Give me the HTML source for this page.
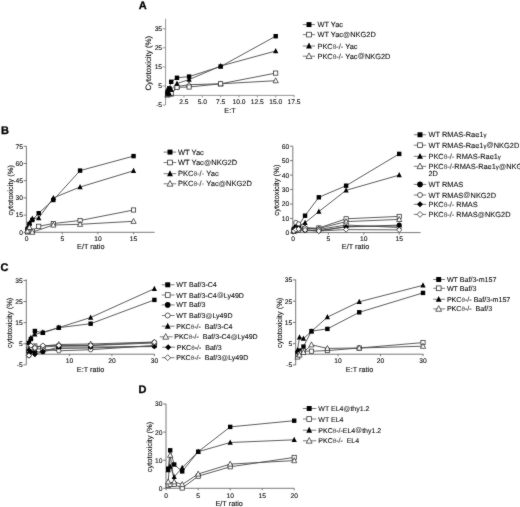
<!DOCTYPE html>
<html><head><meta charset="utf-8"><title>Figure</title>
<style>
html,body{margin:0;padding:0;background:#fff;}
body{width:520px;height:507px;overflow:hidden;}
svg{display:block;will-change:transform;font-family:"Liberation Sans",sans-serif;text-rendering:geometricPrecision;}
</style></head>
<body>
<svg width="520" height="507" viewBox="0 0 520 507">
<defs><filter id="bl" x="0" y="0" width="520" height="507" filterUnits="userSpaceOnUse" color-interpolation-filters="sRGB"><feConvolveMatrix order="3" kernelMatrix="1 2 1 2 28 2 1 2 1" divisor="40" edgeMode="duplicate" preserveAlpha="false"/></filter></defs>
<rect width="520" height="507" fill="#fff"/>
<g filter="url(#bl)">
<line x1="165.6" y1="18.8" x2="165.6" y2="105" stroke="#8a8a8a" stroke-width="0.9"/>
<line x1="165.6" y1="95.4" x2="294.3" y2="95.4" stroke="#8a8a8a" stroke-width="0.9"/>
<line x1="162.8" y1="28.74" x2="165.6" y2="28.74" stroke="#8a8a8a" stroke-width="0.9"/>
<text x="162.1" y="31.14" font-size="6.7" text-anchor="end" font-weight="normal" fill="#111" stroke="#111" stroke-width="0.12">35</text>
<line x1="162.8" y1="47.81" x2="165.6" y2="47.81" stroke="#8a8a8a" stroke-width="0.9"/>
<text x="162.1" y="50.21" font-size="6.7" text-anchor="end" font-weight="normal" fill="#111" stroke="#111" stroke-width="0.12">25</text>
<line x1="162.8" y1="66.89" x2="165.6" y2="66.89" stroke="#8a8a8a" stroke-width="0.9"/>
<text x="162.1" y="69.29" font-size="6.7" text-anchor="end" font-weight="normal" fill="#111" stroke="#111" stroke-width="0.12">15</text>
<line x1="162.8" y1="85.96" x2="165.6" y2="85.96" stroke="#8a8a8a" stroke-width="0.9"/>
<text x="162.1" y="88.36" font-size="6.7" text-anchor="end" font-weight="normal" fill="#111" stroke="#111" stroke-width="0.12">5</text>
<line x1="162.8" y1="105.04" x2="165.6" y2="105.04" stroke="#8a8a8a" stroke-width="0.9"/>
<text x="162.1" y="107.44" font-size="6.7" text-anchor="end" font-weight="normal" fill="#111" stroke="#111" stroke-width="0.12">-5</text>
<line x1="183.95" y1="95.4" x2="183.95" y2="97.4" stroke="#8a8a8a" stroke-width="0.9"/>
<text x="183.95" y="103.8" font-size="6.7" text-anchor="middle" font-weight="normal" fill="#111" stroke="#111" stroke-width="0.12">2.5</text>
<line x1="202.3" y1="95.4" x2="202.3" y2="97.4" stroke="#8a8a8a" stroke-width="0.9"/>
<text x="202.3" y="103.8" font-size="6.7" text-anchor="middle" font-weight="normal" fill="#111" stroke="#111" stroke-width="0.12">5.0</text>
<line x1="220.65" y1="95.4" x2="220.65" y2="97.4" stroke="#8a8a8a" stroke-width="0.9"/>
<text x="220.65" y="103.8" font-size="6.7" text-anchor="middle" font-weight="normal" fill="#111" stroke="#111" stroke-width="0.12">7.5</text>
<line x1="239" y1="95.4" x2="239" y2="97.4" stroke="#8a8a8a" stroke-width="0.9"/>
<text x="239" y="103.8" font-size="6.7" text-anchor="middle" font-weight="normal" fill="#111" stroke="#111" stroke-width="0.12">10.0</text>
<line x1="257.35" y1="95.4" x2="257.35" y2="97.4" stroke="#8a8a8a" stroke-width="0.9"/>
<text x="257.35" y="103.8" font-size="6.7" text-anchor="middle" font-weight="normal" fill="#111" stroke="#111" stroke-width="0.12">12.5</text>
<line x1="275.7" y1="95.4" x2="275.7" y2="97.4" stroke="#8a8a8a" stroke-width="0.9"/>
<text x="275.7" y="103.8" font-size="6.7" text-anchor="middle" font-weight="normal" fill="#111" stroke="#111" stroke-width="0.12">15.0</text>
<line x1="294.05" y1="95.4" x2="294.05" y2="97.4" stroke="#8a8a8a" stroke-width="0.9"/>
<text x="294.05" y="103.8" font-size="6.7" text-anchor="middle" font-weight="normal" fill="#111" stroke="#111" stroke-width="0.12">17.5</text>
<text x="230" y="112.8" font-size="7.3" text-anchor="middle" font-weight="normal" fill="#111" stroke="#111" stroke-width="0.12">E:T</text>
<text transform="translate(151,63.2) rotate(-90)" font-size="7.9" text-anchor="middle" fill="#111" stroke="#111" stroke-width="0.12">Cytotoxicity (%)</text>
<polyline points="167.44,95 169.27,94 171.18,94 176.98,86.5 189.09,84.7 220.65,83.8 275.7,80.7" fill="none" stroke="#4a4a4a" stroke-width="0.9"/>
<polyline points="167.44,94.5 169.27,93.5 171.18,93.5 176.98,87.3 189.09,87 220.65,83.8 275.7,73.1" fill="none" stroke="#4a4a4a" stroke-width="0.9"/>
<polyline points="167.44,89.5 169.27,93.2 171.18,89.5 176.98,83.5 189.09,79.6 220.65,66 275.7,51" fill="none" stroke="#4a4a4a" stroke-width="0.9"/>
<polyline points="167.44,93.6 169.27,88.3 171.18,81.8 176.98,77.8 189.09,76.6 220.65,66.5 275.7,36.2" fill="none" stroke="#4a4a4a" stroke-width="0.9"/>
<polygon points="167.44,92.1 170.03,97.1 164.84,97.1" fill="#fff" stroke="#2a2a2a" stroke-width="0.75" stroke-linejoin="miter"/>
<polygon points="169.27,91.1 171.87,96.1 166.67,96.1" fill="#fff" stroke="#2a2a2a" stroke-width="0.75" stroke-linejoin="miter"/>
<polygon points="171.18,91.1 173.78,96.1 168.58,96.1" fill="#fff" stroke="#2a2a2a" stroke-width="0.75" stroke-linejoin="miter"/>
<polygon points="176.98,83.6 179.58,88.6 174.38,88.6" fill="#fff" stroke="#2a2a2a" stroke-width="0.75" stroke-linejoin="miter"/>
<polygon points="189.09,81.8 191.69,86.8 186.49,86.8" fill="#fff" stroke="#2a2a2a" stroke-width="0.75" stroke-linejoin="miter"/>
<polygon points="220.65,80.9 223.25,85.9 218.05,85.9" fill="#fff" stroke="#2a2a2a" stroke-width="0.75" stroke-linejoin="miter"/>
<polygon points="275.7,77.8 278.3,82.8 273.1,82.8" fill="#fff" stroke="#2a2a2a" stroke-width="0.75" stroke-linejoin="miter"/>
<rect x="165.34" y="92.4" width="4.2" height="4.2" fill="#fff" stroke="#2a2a2a" stroke-width="0.75"/>
<rect x="167.17" y="91.4" width="4.2" height="4.2" fill="#fff" stroke="#2a2a2a" stroke-width="0.75"/>
<rect x="169.08" y="91.4" width="4.2" height="4.2" fill="#fff" stroke="#2a2a2a" stroke-width="0.75"/>
<rect x="174.88" y="85.2" width="4.2" height="4.2" fill="#fff" stroke="#2a2a2a" stroke-width="0.75"/>
<rect x="186.99" y="84.9" width="4.2" height="4.2" fill="#fff" stroke="#2a2a2a" stroke-width="0.75"/>
<rect x="218.55" y="81.7" width="4.2" height="4.2" fill="#fff" stroke="#2a2a2a" stroke-width="0.75"/>
<rect x="273.6" y="71" width="4.2" height="4.2" fill="#fff" stroke="#2a2a2a" stroke-width="0.75"/>
<polygon points="167.44,86.5 170.03,91.7 164.84,91.7" fill="#000"/>
<polygon points="169.27,90.2 171.87,95.4 166.67,95.4" fill="#000"/>
<polygon points="171.18,86.5 173.78,91.7 168.58,91.7" fill="#000"/>
<polygon points="176.98,80.5 179.58,85.7 174.38,85.7" fill="#000"/>
<polygon points="189.09,76.6 191.69,81.8 186.49,81.8" fill="#000"/>
<polygon points="220.65,63 223.25,68.2 218.05,68.2" fill="#000"/>
<polygon points="275.7,48 278.3,53.2 273.1,53.2" fill="#000"/>
<rect x="165.24" y="91.4" width="4.4" height="4.4" fill="#000"/>
<rect x="167.07" y="86.1" width="4.4" height="4.4" fill="#000"/>
<rect x="168.98" y="79.6" width="4.4" height="4.4" fill="#000"/>
<rect x="174.78" y="75.6" width="4.4" height="4.4" fill="#000"/>
<rect x="186.89" y="74.4" width="4.4" height="4.4" fill="#000"/>
<rect x="218.45" y="64.3" width="4.4" height="4.4" fill="#000"/>
<rect x="273.5" y="34" width="4.4" height="4.4" fill="#000"/>
<line x1="302.8" y1="24.6" x2="315" y2="24.6" stroke="#555" stroke-width="0.8"/>
<rect x="306.52" y="22.12" width="4.95" height="4.95" fill="#000"/>
<text x="317.5" y="27.25" font-size="7.4" text-anchor="start" font-weight="normal" fill="#111" stroke="#111" stroke-width="0.11">WT Yac</text>
<line x1="302.8" y1="34.6" x2="315" y2="34.6" stroke="#555" stroke-width="0.8"/>
<rect x="306.64" y="32.24" width="4.73" height="4.73" fill="#fff" stroke="#2a2a2a" stroke-width="0.75"/>
<text x="317.5" y="37.25" font-size="7.4" text-anchor="start" font-weight="normal" fill="#111" stroke="#111" stroke-width="0.11">WT Yac<tspan font-size="95%" dx="0.1" dy="-0.45" fill="#444" stroke="#444" stroke-width="0.1">@</tspan><tspan dx="0.1" dy="0.45">NKG2D</tspan></text>
<line x1="302.8" y1="46" x2="315" y2="46" stroke="#555" stroke-width="0.8"/>
<polygon points="309,42.62 311.93,48.48 306.07,48.48" fill="#000"/>
<text x="317.5" y="48.65" font-size="7.4" text-anchor="start" font-weight="normal" fill="#111" stroke="#111" stroke-width="0.11">PKC<tspan fill="#555" stroke="#555" stroke-width="0.12" font-size="88%">&#952;</tspan><tspan fill="#333" stroke="#333" stroke-width="0.12">-/-</tspan> Yac</text>
<line x1="302.8" y1="56.2" x2="315" y2="56.2" stroke="#555" stroke-width="0.8"/>
<polygon points="309,52.94 311.93,58.56 306.07,58.56" fill="#fff" stroke="#2a2a2a" stroke-width="0.75" stroke-linejoin="miter"/>
<text x="317.5" y="58.85" font-size="7.4" text-anchor="start" font-weight="normal" fill="#111" stroke="#111" stroke-width="0.11">PKC<tspan fill="#555" stroke="#555" stroke-width="0.12" font-size="88%">&#952;</tspan><tspan fill="#333" stroke="#333" stroke-width="0.12">-/-</tspan> Yac<tspan font-size="95%" dx="0.1" dy="-0.45" fill="#444" stroke="#444" stroke-width="0.1">@</tspan><tspan dx="0.1" dy="0.45">NKG2D</tspan></text>
<line x1="26.4" y1="146.2" x2="26.4" y2="232.3" stroke="#6a6a6a" stroke-width="0.9"/>
<line x1="26.4" y1="232.3" x2="154.6" y2="232.3" stroke="#6a6a6a" stroke-width="0.9"/>
<line x1="23.6" y1="146.28" x2="26.4" y2="146.28" stroke="#6a6a6a" stroke-width="0.9"/>
<text x="22.9" y="148.67" font-size="6.7" text-anchor="end" font-weight="normal" fill="#111" stroke="#111" stroke-width="0.12">75</text>
<line x1="23.6" y1="163.48" x2="26.4" y2="163.48" stroke="#6a6a6a" stroke-width="0.9"/>
<text x="22.9" y="165.88" font-size="6.7" text-anchor="end" font-weight="normal" fill="#111" stroke="#111" stroke-width="0.12">60</text>
<line x1="23.6" y1="180.69" x2="26.4" y2="180.69" stroke="#6a6a6a" stroke-width="0.9"/>
<text x="22.9" y="183.08" font-size="6.7" text-anchor="end" font-weight="normal" fill="#111" stroke="#111" stroke-width="0.12">45</text>
<line x1="23.6" y1="197.89" x2="26.4" y2="197.89" stroke="#6a6a6a" stroke-width="0.9"/>
<text x="22.9" y="200.29" font-size="6.7" text-anchor="end" font-weight="normal" fill="#111" stroke="#111" stroke-width="0.12">30</text>
<line x1="23.6" y1="215.09" x2="26.4" y2="215.09" stroke="#6a6a6a" stroke-width="0.9"/>
<text x="22.9" y="217.49" font-size="6.7" text-anchor="end" font-weight="normal" fill="#111" stroke="#111" stroke-width="0.12">15</text>
<line x1="23.6" y1="232.3" x2="26.4" y2="232.3" stroke="#6a6a6a" stroke-width="0.9"/>
<text x="22.9" y="234.7" font-size="6.7" text-anchor="end" font-weight="normal" fill="#111" stroke="#111" stroke-width="0.12">0</text>
<line x1="26.6" y1="232.3" x2="26.6" y2="234.3" stroke="#6a6a6a" stroke-width="0.9"/>
<text x="26.6" y="240.9" font-size="6.7" text-anchor="middle" font-weight="normal" fill="#111" stroke="#111" stroke-width="0.12">0</text>
<line x1="62.25" y1="232.3" x2="62.25" y2="234.3" stroke="#6a6a6a" stroke-width="0.9"/>
<text x="62.25" y="240.9" font-size="6.7" text-anchor="middle" font-weight="normal" fill="#111" stroke="#111" stroke-width="0.12">5</text>
<line x1="97.9" y1="232.3" x2="97.9" y2="234.3" stroke="#6a6a6a" stroke-width="0.9"/>
<text x="97.9" y="240.9" font-size="6.7" text-anchor="middle" font-weight="normal" fill="#111" stroke="#111" stroke-width="0.12">10</text>
<line x1="133.55" y1="232.3" x2="133.55" y2="234.3" stroke="#6a6a6a" stroke-width="0.9"/>
<text x="133.55" y="240.9" font-size="6.7" text-anchor="middle" font-weight="normal" fill="#111" stroke="#111" stroke-width="0.12">15</text>
<text x="90.8" y="249.4" font-size="7.3" text-anchor="middle" font-weight="normal" fill="#111" stroke="#111" stroke-width="0.12">E/T ratio</text>
<text transform="translate(12.6,190.2) rotate(-90)" font-size="7.5" text-anchor="middle" fill="#111" stroke="#111" stroke-width="0.12">cytotoxicity (%)</text>
<polyline points="27.46,229 29.45,224 32.3,220 38.72,213.2 53.34,200 80.08,170.6 133.55,156.1" fill="none" stroke="#4a4a4a" stroke-width="0.9"/>
<polyline points="27.46,232 29.45,231 32.3,231 38.72,226.3 53.34,223.5 80.08,220.5 133.55,210" fill="none" stroke="#4a4a4a" stroke-width="0.9"/>
<polyline points="27.46,228 29.45,223 32.3,218.5 38.72,218 53.34,197.9 80.08,187 133.55,170.8" fill="none" stroke="#4a4a4a" stroke-width="0.9"/>
<polyline points="27.46,231 29.45,227.4 32.3,232.2 53.34,225 80.08,224.3 133.55,221.3" fill="none" stroke="#4a4a4a" stroke-width="0.9"/>
<rect x="25.26" y="226.8" width="4.4" height="4.4" fill="#000"/>
<rect x="27.25" y="221.8" width="4.4" height="4.4" fill="#000"/>
<rect x="30.1" y="217.8" width="4.4" height="4.4" fill="#000"/>
<rect x="36.52" y="211" width="4.4" height="4.4" fill="#000"/>
<rect x="51.14" y="197.8" width="4.4" height="4.4" fill="#000"/>
<rect x="77.88" y="168.4" width="4.4" height="4.4" fill="#000"/>
<rect x="131.35" y="153.9" width="4.4" height="4.4" fill="#000"/>
<rect x="25.36" y="229.9" width="4.2" height="4.2" fill="#fff" stroke="#2a2a2a" stroke-width="0.75"/>
<rect x="27.35" y="228.9" width="4.2" height="4.2" fill="#fff" stroke="#2a2a2a" stroke-width="0.75"/>
<rect x="30.2" y="228.9" width="4.2" height="4.2" fill="#fff" stroke="#2a2a2a" stroke-width="0.75"/>
<rect x="36.62" y="224.2" width="4.2" height="4.2" fill="#fff" stroke="#2a2a2a" stroke-width="0.75"/>
<rect x="51.24" y="221.4" width="4.2" height="4.2" fill="#fff" stroke="#2a2a2a" stroke-width="0.75"/>
<rect x="77.98" y="218.4" width="4.2" height="4.2" fill="#fff" stroke="#2a2a2a" stroke-width="0.75"/>
<rect x="131.45" y="207.9" width="4.2" height="4.2" fill="#fff" stroke="#2a2a2a" stroke-width="0.75"/>
<polygon points="27.46,225 30.06,230.2 24.86,230.2" fill="#000"/>
<polygon points="29.45,220 32.05,225.2 26.85,225.2" fill="#000"/>
<polygon points="32.3,215.5 34.9,220.7 29.7,220.7" fill="#000"/>
<polygon points="38.72,215 41.32,220.2 36.12,220.2" fill="#000"/>
<polygon points="53.34,194.9 55.94,200.1 50.74,200.1" fill="#000"/>
<polygon points="80.08,184 82.67,189.2 77.48,189.2" fill="#000"/>
<polygon points="133.55,167.8 136.15,173 130.95,173" fill="#000"/>
<polygon points="27.46,228.1 30.06,233.1 24.86,233.1" fill="#fff" stroke="#2a2a2a" stroke-width="0.75" stroke-linejoin="miter"/>
<polygon points="29.45,224.5 32.05,229.5 26.85,229.5" fill="#fff" stroke="#2a2a2a" stroke-width="0.75" stroke-linejoin="miter"/>
<polygon points="32.3,229.3 34.9,234.3 29.7,234.3" fill="#fff" stroke="#2a2a2a" stroke-width="0.75" stroke-linejoin="miter"/>
<polygon points="53.34,222.1 55.94,227.1 50.74,227.1" fill="#fff" stroke="#2a2a2a" stroke-width="0.75" stroke-linejoin="miter"/>
<polygon points="80.08,221.4 82.67,226.4 77.48,226.4" fill="#fff" stroke="#2a2a2a" stroke-width="0.75" stroke-linejoin="miter"/>
<polygon points="133.55,218.4 136.15,223.4 130.95,223.4" fill="#fff" stroke="#2a2a2a" stroke-width="0.75" stroke-linejoin="miter"/>
<line x1="163.6" y1="152.1" x2="176.2" y2="152.1" stroke="#555" stroke-width="0.8"/>
<rect x="167.53" y="149.62" width="4.95" height="4.95" fill="#000"/>
<text x="178" y="154.78" font-size="7.5" text-anchor="start" font-weight="normal" fill="#111" stroke="#111" stroke-width="0.11">WT Yac</text>
<line x1="163.6" y1="162.5" x2="176.2" y2="162.5" stroke="#555" stroke-width="0.8"/>
<rect x="167.64" y="160.14" width="4.73" height="4.73" fill="#fff" stroke="#2a2a2a" stroke-width="0.75"/>
<text x="178" y="165.19" font-size="7.5" text-anchor="start" font-weight="normal" fill="#111" stroke="#111" stroke-width="0.11">WT Yac<tspan font-size="95%" dx="0.1" dy="-0.45" fill="#444" stroke="#444" stroke-width="0.1">@</tspan><tspan dx="0.1" dy="0.45">NKG2D</tspan></text>
<line x1="163.6" y1="173.7" x2="176.2" y2="173.7" stroke="#555" stroke-width="0.8"/>
<polygon points="170,170.32 172.93,176.17 167.07,176.17" fill="#000"/>
<text x="178" y="176.38" font-size="7.5" text-anchor="start" font-weight="normal" fill="#111" stroke="#111" stroke-width="0.11">PKC<tspan fill="#555" stroke="#555" stroke-width="0.12" font-size="88%">&#952;</tspan><tspan fill="#333" stroke="#333" stroke-width="0.12">-/-</tspan> Yac</text>
<line x1="163.6" y1="183.8" x2="176.2" y2="183.8" stroke="#555" stroke-width="0.8"/>
<polygon points="170,180.54 172.93,186.16 167.07,186.16" fill="#fff" stroke="#2a2a2a" stroke-width="0.75" stroke-linejoin="miter"/>
<text x="178" y="186.49" font-size="7.5" text-anchor="start" font-weight="normal" fill="#111" stroke="#111" stroke-width="0.11">PKC<tspan fill="#555" stroke="#555" stroke-width="0.12" font-size="88%">&#952;</tspan><tspan fill="#333" stroke="#333" stroke-width="0.12">-/-</tspan> Yac<tspan font-size="95%" dx="0.1" dy="-0.45" fill="#444" stroke="#444" stroke-width="0.1">@</tspan><tspan dx="0.1" dy="0.45">NKG2D</tspan></text>
<line x1="292.8" y1="146.2" x2="292.8" y2="232.6" stroke="#6a6a6a" stroke-width="0.9"/>
<line x1="292.8" y1="232.6" x2="420.6" y2="232.6" stroke="#6a6a6a" stroke-width="0.9"/>
<line x1="290" y1="146.2" x2="292.8" y2="146.2" stroke="#6a6a6a" stroke-width="0.9"/>
<text x="289.3" y="148.6" font-size="6.7" text-anchor="end" font-weight="normal" fill="#111" stroke="#111" stroke-width="0.12">60</text>
<line x1="290" y1="160.65" x2="292.8" y2="160.65" stroke="#6a6a6a" stroke-width="0.9"/>
<text x="289.3" y="163.05" font-size="6.7" text-anchor="end" font-weight="normal" fill="#111" stroke="#111" stroke-width="0.12">50</text>
<line x1="290" y1="175.1" x2="292.8" y2="175.1" stroke="#6a6a6a" stroke-width="0.9"/>
<text x="289.3" y="177.5" font-size="6.7" text-anchor="end" font-weight="normal" fill="#111" stroke="#111" stroke-width="0.12">40</text>
<line x1="290" y1="189.55" x2="292.8" y2="189.55" stroke="#6a6a6a" stroke-width="0.9"/>
<text x="289.3" y="191.95" font-size="6.7" text-anchor="end" font-weight="normal" fill="#111" stroke="#111" stroke-width="0.12">30</text>
<line x1="290" y1="204" x2="292.8" y2="204" stroke="#6a6a6a" stroke-width="0.9"/>
<text x="289.3" y="206.4" font-size="6.7" text-anchor="end" font-weight="normal" fill="#111" stroke="#111" stroke-width="0.12">20</text>
<line x1="290" y1="218.45" x2="292.8" y2="218.45" stroke="#6a6a6a" stroke-width="0.9"/>
<text x="289.3" y="220.85" font-size="6.7" text-anchor="end" font-weight="normal" fill="#111" stroke="#111" stroke-width="0.12">10</text>
<line x1="290" y1="232.9" x2="292.8" y2="232.9" stroke="#6a6a6a" stroke-width="0.9"/>
<text x="289.3" y="235.3" font-size="6.7" text-anchor="end" font-weight="normal" fill="#111" stroke="#111" stroke-width="0.12">0</text>
<line x1="293" y1="232.6" x2="293" y2="234.6" stroke="#6a6a6a" stroke-width="0.9"/>
<text x="293" y="240.7" font-size="6.7" text-anchor="middle" font-weight="normal" fill="#111" stroke="#111" stroke-width="0.12">0</text>
<line x1="328.4" y1="232.6" x2="328.4" y2="234.6" stroke="#6a6a6a" stroke-width="0.9"/>
<text x="328.4" y="240.7" font-size="6.7" text-anchor="middle" font-weight="normal" fill="#111" stroke="#111" stroke-width="0.12">5</text>
<line x1="363.8" y1="232.6" x2="363.8" y2="234.6" stroke="#6a6a6a" stroke-width="0.9"/>
<text x="363.8" y="240.7" font-size="6.7" text-anchor="middle" font-weight="normal" fill="#111" stroke="#111" stroke-width="0.12">10</text>
<line x1="399.2" y1="232.6" x2="399.2" y2="234.6" stroke="#6a6a6a" stroke-width="0.9"/>
<text x="399.2" y="240.7" font-size="6.7" text-anchor="middle" font-weight="normal" fill="#111" stroke="#111" stroke-width="0.12">15</text>
<text x="355.5" y="249.4" font-size="7.3" text-anchor="middle" font-weight="normal" fill="#111" stroke="#111" stroke-width="0.12">E/T ratio</text>
<text transform="translate(279.3,190.1) rotate(-90)" font-size="7.6" text-anchor="middle" fill="#111" stroke="#111" stroke-width="0.12">cytotoxicity (%)</text>
<polyline points="293.85,229 295.83,227 298.66,225 305.04,215.7 318.84,197.3 346.1,185.7 399.2,153.9" fill="none" stroke="#4a4a4a" stroke-width="0.9"/>
<polyline points="293.85,231.5 295.83,230.5 298.66,230 305.04,229 318.84,228 346.1,218.8 399.2,216.4" fill="none" stroke="#4a4a4a" stroke-width="0.9"/>
<polyline points="293.85,230 295.83,228 298.66,226 305.04,222.8 318.84,211.6 346.1,190.3 399.2,175.1" fill="none" stroke="#4a4a4a" stroke-width="0.9"/>
<polyline points="293.85,231 295.83,230 298.66,228.5 305.04,227.5 318.84,228.5 346.1,221.6 399.2,219.4" fill="none" stroke="#4a4a4a" stroke-width="0.9"/>
<polyline points="293.85,230.5 295.83,228 298.66,227.5 305.04,230 318.84,230.5 346.1,226.8 399.2,225.1" fill="none" stroke="#4a4a4a" stroke-width="0.9"/>
<polyline points="293.85,230 295.83,222.5 298.66,224 305.04,228 318.84,229.5 346.1,225 399.2,227.5" fill="none" stroke="#4a4a4a" stroke-width="0.9"/>
<polyline points="293.85,229 295.83,228.5 298.66,228 305.04,230.5 318.84,231 346.1,226.8 399.2,226" fill="none" stroke="#4a4a4a" stroke-width="0.9"/>
<polyline points="293.85,231 295.83,229.5 298.66,229 305.04,230 318.84,231 346.1,229.6 399.2,229.9" fill="none" stroke="#4a4a4a" stroke-width="0.9"/>
<rect x="291.65" y="226.8" width="4.4" height="4.4" fill="#000"/>
<rect x="293.63" y="224.8" width="4.4" height="4.4" fill="#000"/>
<rect x="296.46" y="222.8" width="4.4" height="4.4" fill="#000"/>
<rect x="302.84" y="213.5" width="4.4" height="4.4" fill="#000"/>
<rect x="316.64" y="195.1" width="4.4" height="4.4" fill="#000"/>
<rect x="343.9" y="183.5" width="4.4" height="4.4" fill="#000"/>
<rect x="397" y="151.7" width="4.4" height="4.4" fill="#000"/>
<rect x="291.75" y="229.4" width="4.2" height="4.2" fill="#fff" stroke="#2a2a2a" stroke-width="0.75"/>
<rect x="293.73" y="228.4" width="4.2" height="4.2" fill="#fff" stroke="#2a2a2a" stroke-width="0.75"/>
<rect x="296.56" y="227.9" width="4.2" height="4.2" fill="#fff" stroke="#2a2a2a" stroke-width="0.75"/>
<rect x="302.94" y="226.9" width="4.2" height="4.2" fill="#fff" stroke="#2a2a2a" stroke-width="0.75"/>
<rect x="316.74" y="225.9" width="4.2" height="4.2" fill="#fff" stroke="#2a2a2a" stroke-width="0.75"/>
<rect x="344" y="216.7" width="4.2" height="4.2" fill="#fff" stroke="#2a2a2a" stroke-width="0.75"/>
<rect x="397.1" y="214.3" width="4.2" height="4.2" fill="#fff" stroke="#2a2a2a" stroke-width="0.75"/>
<polygon points="293.85,227 296.45,232.2 291.25,232.2" fill="#000"/>
<polygon points="295.83,225 298.43,230.2 293.23,230.2" fill="#000"/>
<polygon points="298.66,223 301.26,228.2 296.06,228.2" fill="#000"/>
<polygon points="305.04,219.8 307.64,225 302.44,225" fill="#000"/>
<polygon points="318.84,208.6 321.44,213.8 316.24,213.8" fill="#000"/>
<polygon points="346.1,187.3 348.7,192.5 343.5,192.5" fill="#000"/>
<polygon points="399.2,172.1 401.8,177.3 396.6,177.3" fill="#000"/>
<polygon points="293.85,228.1 296.45,233.1 291.25,233.1" fill="#fff" stroke="#2a2a2a" stroke-width="0.75" stroke-linejoin="miter"/>
<polygon points="295.83,227.1 298.43,232.1 293.23,232.1" fill="#fff" stroke="#2a2a2a" stroke-width="0.75" stroke-linejoin="miter"/>
<polygon points="298.66,225.6 301.26,230.6 296.06,230.6" fill="#fff" stroke="#2a2a2a" stroke-width="0.75" stroke-linejoin="miter"/>
<polygon points="305.04,224.6 307.64,229.6 302.44,229.6" fill="#fff" stroke="#2a2a2a" stroke-width="0.75" stroke-linejoin="miter"/>
<polygon points="318.84,225.6 321.44,230.6 316.24,230.6" fill="#fff" stroke="#2a2a2a" stroke-width="0.75" stroke-linejoin="miter"/>
<polygon points="346.1,218.7 348.7,223.7 343.5,223.7" fill="#fff" stroke="#2a2a2a" stroke-width="0.75" stroke-linejoin="miter"/>
<polygon points="399.2,216.5 401.8,221.5 396.6,221.5" fill="#fff" stroke="#2a2a2a" stroke-width="0.75" stroke-linejoin="miter"/>
<circle cx="293.85" cy="230.5" r="2.5" fill="#000"/>
<circle cx="295.83" cy="228" r="2.5" fill="#000"/>
<circle cx="298.66" cy="227.5" r="2.5" fill="#000"/>
<circle cx="305.04" cy="230" r="2.5" fill="#000"/>
<circle cx="318.84" cy="230.5" r="2.5" fill="#000"/>
<circle cx="346.1" cy="226.8" r="2.5" fill="#000"/>
<circle cx="399.2" cy="225.1" r="2.5" fill="#000"/>
<circle cx="293.85" cy="230" r="2.2" fill="#fff" stroke="#2a2a2a" stroke-width="0.75"/>
<circle cx="295.83" cy="222.5" r="2.2" fill="#fff" stroke="#2a2a2a" stroke-width="0.75"/>
<circle cx="298.66" cy="224" r="2.2" fill="#fff" stroke="#2a2a2a" stroke-width="0.75"/>
<circle cx="305.04" cy="228" r="2.2" fill="#fff" stroke="#2a2a2a" stroke-width="0.75"/>
<circle cx="318.84" cy="229.5" r="2.2" fill="#fff" stroke="#2a2a2a" stroke-width="0.75"/>
<circle cx="346.1" cy="225" r="2.2" fill="#fff" stroke="#2a2a2a" stroke-width="0.75"/>
<circle cx="399.2" cy="227.5" r="2.2" fill="#fff" stroke="#2a2a2a" stroke-width="0.75"/>
<polygon points="293.85,226.3 296.55,229 293.85,231.7 291.15,229" fill="#000"/>
<polygon points="295.83,225.8 298.53,228.5 295.83,231.2 293.13,228.5" fill="#000"/>
<polygon points="298.66,225.3 301.36,228 298.66,230.7 295.96,228" fill="#000"/>
<polygon points="305.04,227.8 307.74,230.5 305.04,233.2 302.34,230.5" fill="#000"/>
<polygon points="318.84,228.3 321.54,231 318.84,233.7 316.14,231" fill="#000"/>
<polygon points="346.1,224.1 348.8,226.8 346.1,229.5 343.4,226.8" fill="#000"/>
<polygon points="399.2,223.3 401.9,226 399.2,228.7 396.5,226" fill="#000"/>
<polygon points="293.85,228.4 296.45,231 293.85,233.6 291.25,231" fill="#fff" stroke="#2a2a2a" stroke-width="0.75"/>
<polygon points="295.83,226.9 298.43,229.5 295.83,232.1 293.23,229.5" fill="#fff" stroke="#2a2a2a" stroke-width="0.75"/>
<polygon points="298.66,226.4 301.26,229 298.66,231.6 296.06,229" fill="#fff" stroke="#2a2a2a" stroke-width="0.75"/>
<polygon points="305.04,227.4 307.64,230 305.04,232.6 302.44,230" fill="#fff" stroke="#2a2a2a" stroke-width="0.75"/>
<polygon points="318.84,228.4 321.44,231 318.84,233.6 316.24,231" fill="#fff" stroke="#2a2a2a" stroke-width="0.75"/>
<polygon points="346.1,227 348.7,229.6 346.1,232.2 343.5,229.6" fill="#fff" stroke="#2a2a2a" stroke-width="0.75"/>
<polygon points="399.2,227.3 401.8,229.9 399.2,232.5 396.6,229.9" fill="#fff" stroke="#2a2a2a" stroke-width="0.75"/>
<line x1="413.8" y1="134.75" x2="426.2" y2="134.75" stroke="#555" stroke-width="0.8"/>
<rect x="417.52" y="132.28" width="4.95" height="4.95" fill="#000"/>
<text x="428.5" y="137.4" font-size="7.4" text-anchor="start" font-weight="normal" fill="#111" stroke="#111" stroke-width="0.11">WT RMAS-Rae1<tspan font-size="82%">&#947;</tspan></text>
<line x1="413.8" y1="145.2" x2="426.2" y2="145.2" stroke="#555" stroke-width="0.8"/>
<rect x="417.64" y="142.84" width="4.73" height="4.73" fill="#fff" stroke="#2a2a2a" stroke-width="0.75"/>
<text x="428.5" y="147.85" font-size="7.4" text-anchor="start" font-weight="normal" fill="#111" stroke="#111" stroke-width="0.11">WT RMAS-Rae1<tspan font-size="82%">&#947;</tspan><tspan font-size="95%" dx="0.1" dy="-0.45" fill="#444" stroke="#444" stroke-width="0.1">@</tspan><tspan dx="0.1" dy="0.45">NKG2D</tspan></text>
<line x1="413.8" y1="156.3" x2="426.2" y2="156.3" stroke="#555" stroke-width="0.8"/>
<polygon points="420,152.93 422.93,158.78 417.07,158.78" fill="#000"/>
<text x="428.5" y="158.95" font-size="7.4" text-anchor="start" font-weight="normal" fill="#111" stroke="#111" stroke-width="0.11">PKC<tspan fill="#555" stroke="#555" stroke-width="0.12" font-size="88%">&#952;</tspan><tspan fill="#333" stroke="#333" stroke-width="0.12">-/-</tspan> RMAS-Rae1<tspan font-size="82%">&#947;</tspan></text>
<line x1="413.8" y1="166.3" x2="426.2" y2="166.3" stroke="#555" stroke-width="0.8"/>
<polygon points="420,163.04 422.93,168.66 417.07,168.66" fill="#fff" stroke="#2a2a2a" stroke-width="0.75" stroke-linejoin="miter"/>
<text x="428.5" y="168.95" font-size="7.4" text-anchor="start" font-weight="normal" fill="#111" stroke="#111" stroke-width="0.11">PKC<tspan fill="#555" stroke="#555" stroke-width="0.12" font-size="88%">&#952;</tspan><tspan fill="#333" stroke="#333" stroke-width="0.12">-/-</tspan>RMAS-Rae1<tspan font-size="82%">&#947;</tspan><tspan font-size="95%" dx="0.1" dy="-0.45" fill="#444" stroke="#444" stroke-width="0.1">@</tspan><tspan dx="0.1" dy="0.45">NKG</tspan></text>
<line x1="413.8" y1="184.4" x2="426.2" y2="184.4" stroke="#555" stroke-width="0.8"/>
<circle cx="420" cy="184.4" r="2.81" fill="#000"/>
<text x="428.5" y="187.05" font-size="7.4" text-anchor="start" font-weight="normal" fill="#111" stroke="#111" stroke-width="0.11">WT RMAS</text>
<line x1="413.8" y1="195" x2="426.2" y2="195" stroke="#555" stroke-width="0.8"/>
<circle cx="420" cy="195" r="2.48" fill="#fff" stroke="#2a2a2a" stroke-width="0.75"/>
<text x="428.5" y="197.65" font-size="7.4" text-anchor="start" font-weight="normal" fill="#111" stroke="#111" stroke-width="0.11">WT RMAS<tspan font-size="95%" dx="0.1" dy="-0.45" fill="#444" stroke="#444" stroke-width="0.1">@</tspan><tspan dx="0.1" dy="0.45">NKG2D</tspan></text>
<line x1="413.8" y1="204.3" x2="426.2" y2="204.3" stroke="#555" stroke-width="0.8"/>
<polygon points="420,201.26 423.04,204.3 420,207.34 416.96,204.3" fill="#000"/>
<text x="428.5" y="206.95" font-size="7.4" text-anchor="start" font-weight="normal" fill="#111" stroke="#111" stroke-width="0.11">PKC<tspan fill="#555" stroke="#555" stroke-width="0.12" font-size="88%">&#952;</tspan><tspan fill="#333" stroke="#333" stroke-width="0.12">-/-</tspan> RMAS</text>
<line x1="413.8" y1="214.4" x2="426.2" y2="214.4" stroke="#555" stroke-width="0.8"/>
<polygon points="420,211.47 422.93,214.4 420,217.33 417.07,214.4" fill="#fff" stroke="#2a2a2a" stroke-width="0.75"/>
<text x="428.5" y="217.05" font-size="7.4" text-anchor="start" font-weight="normal" fill="#111" stroke="#111" stroke-width="0.11">PKC<tspan fill="#555" stroke="#555" stroke-width="0.12" font-size="88%">&#952;</tspan><tspan fill="#333" stroke="#333" stroke-width="0.12">-/-</tspan> RMAS<tspan font-size="95%" dx="0.1" dy="-0.45" fill="#444" stroke="#444" stroke-width="0.1">@</tspan><tspan dx="0.1" dy="0.45">NKG2D</tspan></text>
<text x="428.5" y="176.4" font-size="7.4" text-anchor="start" font-weight="normal" fill="#111" stroke="#111" stroke-width="0.11">2D</text>
<line x1="26.3" y1="279.4" x2="26.3" y2="364.8" stroke="#6a6a6a" stroke-width="0.9"/>
<line x1="26.3" y1="354.2" x2="154.7" y2="354.2" stroke="#6a6a6a" stroke-width="0.9"/>
<line x1="23.5" y1="280.45" x2="26.3" y2="280.45" stroke="#6a6a6a" stroke-width="0.9"/>
<text x="22.8" y="282.85" font-size="6.7" text-anchor="end" font-weight="normal" fill="#111" stroke="#111" stroke-width="0.12">35</text>
<line x1="23.5" y1="301.55" x2="26.3" y2="301.55" stroke="#6a6a6a" stroke-width="0.9"/>
<text x="22.8" y="303.95" font-size="6.7" text-anchor="end" font-weight="normal" fill="#111" stroke="#111" stroke-width="0.12">25</text>
<line x1="23.5" y1="322.65" x2="26.3" y2="322.65" stroke="#6a6a6a" stroke-width="0.9"/>
<text x="22.8" y="325.05" font-size="6.7" text-anchor="end" font-weight="normal" fill="#111" stroke="#111" stroke-width="0.12">15</text>
<line x1="23.5" y1="343.75" x2="26.3" y2="343.75" stroke="#6a6a6a" stroke-width="0.9"/>
<text x="22.8" y="346.15" font-size="6.7" text-anchor="end" font-weight="normal" fill="#111" stroke="#111" stroke-width="0.12">5</text>
<line x1="23.5" y1="364.85" x2="26.3" y2="364.85" stroke="#6a6a6a" stroke-width="0.9"/>
<text x="22.8" y="367.25" font-size="6.7" text-anchor="end" font-weight="normal" fill="#111" stroke="#111" stroke-width="0.12">-5</text>
<line x1="69.4" y1="354.2" x2="69.4" y2="356.2" stroke="#6a6a6a" stroke-width="0.9"/>
<text x="69.4" y="362.8" font-size="6.7" text-anchor="middle" font-weight="normal" fill="#111" stroke="#111" stroke-width="0.12">10</text>
<line x1="111.9" y1="354.2" x2="111.9" y2="356.2" stroke="#6a6a6a" stroke-width="0.9"/>
<text x="111.9" y="362.8" font-size="6.7" text-anchor="middle" font-weight="normal" fill="#111" stroke="#111" stroke-width="0.12">20</text>
<line x1="154.4" y1="354.2" x2="154.4" y2="356.2" stroke="#6a6a6a" stroke-width="0.9"/>
<text x="154.4" y="362.8" font-size="6.7" text-anchor="middle" font-weight="normal" fill="#111" stroke="#111" stroke-width="0.12">30</text>
<text x="90.5" y="371.9" font-size="7.3" text-anchor="middle" font-weight="normal" fill="#111" stroke="#111" stroke-width="0.12">E:T ratio</text>
<text transform="translate(12.4,322.9) rotate(-90)" font-size="7.5" text-anchor="middle" fill="#111" stroke="#111" stroke-width="0.12">cytotoxicity (%)</text>
<polyline points="28.9,343 30.89,339 34.87,331 42.84,332.8 58.77,327.7 90.65,323.7 154.4,299.9" fill="none" stroke="#4a4a4a" stroke-width="0.9"/>
<polyline points="28.9,349 30.89,347 34.87,346 42.84,347 58.77,346 90.65,345.5 154.4,343" fill="none" stroke="#4a4a4a" stroke-width="0.9"/>
<polyline points="28.9,352 30.89,350.8 34.87,352 42.84,351.7 58.77,348.5 90.65,348 154.4,346" fill="none" stroke="#4a4a4a" stroke-width="0.9"/>
<polyline points="28.9,355.6 30.89,350 34.87,348.5 42.84,349.3 58.77,350.8 90.65,349.7 154.4,345.5" fill="none" stroke="#4a4a4a" stroke-width="0.9"/>
<polyline points="28.9,342 30.89,337.8 34.87,334.4 42.84,332.3 58.77,327.6 90.65,317.5 154.4,288.7" fill="none" stroke="#4a4a4a" stroke-width="0.9"/>
<polyline points="28.9,350 30.89,348 34.87,347 42.84,346 58.77,344.5 90.65,344 154.4,342" fill="none" stroke="#4a4a4a" stroke-width="0.9"/>
<polyline points="28.9,350 30.89,352 34.87,354.6 42.84,351.3 58.77,347 90.65,347 154.4,346.6" fill="none" stroke="#4a4a4a" stroke-width="0.9"/>
<polyline points="28.9,355.5 30.89,345.5 34.87,347.9 42.84,345.5 58.77,345.5 90.65,345.3 154.4,342.2" fill="none" stroke="#4a4a4a" stroke-width="0.9"/>
<rect x="26.7" y="340.8" width="4.4" height="4.4" fill="#000"/>
<rect x="28.7" y="336.8" width="4.4" height="4.4" fill="#000"/>
<rect x="32.67" y="328.8" width="4.4" height="4.4" fill="#000"/>
<rect x="40.64" y="330.6" width="4.4" height="4.4" fill="#000"/>
<rect x="56.57" y="325.5" width="4.4" height="4.4" fill="#000"/>
<rect x="88.45" y="321.5" width="4.4" height="4.4" fill="#000"/>
<rect x="152.2" y="297.7" width="4.4" height="4.4" fill="#000"/>
<rect x="26.8" y="346.9" width="4.2" height="4.2" fill="#fff" stroke="#2a2a2a" stroke-width="0.75"/>
<rect x="28.79" y="344.9" width="4.2" height="4.2" fill="#fff" stroke="#2a2a2a" stroke-width="0.75"/>
<rect x="32.77" y="343.9" width="4.2" height="4.2" fill="#fff" stroke="#2a2a2a" stroke-width="0.75"/>
<rect x="40.74" y="344.9" width="4.2" height="4.2" fill="#fff" stroke="#2a2a2a" stroke-width="0.75"/>
<rect x="56.67" y="343.9" width="4.2" height="4.2" fill="#fff" stroke="#2a2a2a" stroke-width="0.75"/>
<rect x="88.55" y="343.4" width="4.2" height="4.2" fill="#fff" stroke="#2a2a2a" stroke-width="0.75"/>
<rect x="152.3" y="340.9" width="4.2" height="4.2" fill="#fff" stroke="#2a2a2a" stroke-width="0.75"/>
<circle cx="28.9" cy="352" r="2.5" fill="#000"/>
<circle cx="30.89" cy="350.8" r="2.5" fill="#000"/>
<circle cx="34.87" cy="352" r="2.5" fill="#000"/>
<circle cx="42.84" cy="351.7" r="2.5" fill="#000"/>
<circle cx="58.77" cy="348.5" r="2.5" fill="#000"/>
<circle cx="90.65" cy="348" r="2.5" fill="#000"/>
<circle cx="154.4" cy="346" r="2.5" fill="#000"/>
<circle cx="28.9" cy="355.6" r="2.2" fill="#fff" stroke="#2a2a2a" stroke-width="0.75"/>
<circle cx="30.89" cy="350" r="2.2" fill="#fff" stroke="#2a2a2a" stroke-width="0.75"/>
<circle cx="34.87" cy="348.5" r="2.2" fill="#fff" stroke="#2a2a2a" stroke-width="0.75"/>
<circle cx="42.84" cy="349.3" r="2.2" fill="#fff" stroke="#2a2a2a" stroke-width="0.75"/>
<circle cx="58.77" cy="350.8" r="2.2" fill="#fff" stroke="#2a2a2a" stroke-width="0.75"/>
<circle cx="90.65" cy="349.7" r="2.2" fill="#fff" stroke="#2a2a2a" stroke-width="0.75"/>
<circle cx="154.4" cy="345.5" r="2.2" fill="#fff" stroke="#2a2a2a" stroke-width="0.75"/>
<polygon points="28.9,339 31.5,344.2 26.3,344.2" fill="#000"/>
<polygon points="30.89,334.8 33.49,340 28.29,340" fill="#000"/>
<polygon points="34.87,331.4 37.47,336.6 32.27,336.6" fill="#000"/>
<polygon points="42.84,329.3 45.44,334.5 40.24,334.5" fill="#000"/>
<polygon points="58.77,324.6 61.38,329.8 56.17,329.8" fill="#000"/>
<polygon points="90.65,314.5 93.25,319.7 88.05,319.7" fill="#000"/>
<polygon points="154.4,285.7 157,290.9 151.8,290.9" fill="#000"/>
<polygon points="28.9,347.1 31.5,352.1 26.3,352.1" fill="#fff" stroke="#2a2a2a" stroke-width="0.75" stroke-linejoin="miter"/>
<polygon points="30.89,345.1 33.49,350.1 28.29,350.1" fill="#fff" stroke="#2a2a2a" stroke-width="0.75" stroke-linejoin="miter"/>
<polygon points="34.87,344.1 37.47,349.1 32.27,349.1" fill="#fff" stroke="#2a2a2a" stroke-width="0.75" stroke-linejoin="miter"/>
<polygon points="42.84,343.1 45.44,348.1 40.24,348.1" fill="#fff" stroke="#2a2a2a" stroke-width="0.75" stroke-linejoin="miter"/>
<polygon points="58.77,341.6 61.38,346.6 56.17,346.6" fill="#fff" stroke="#2a2a2a" stroke-width="0.75" stroke-linejoin="miter"/>
<polygon points="90.65,341.1 93.25,346.1 88.05,346.1" fill="#fff" stroke="#2a2a2a" stroke-width="0.75" stroke-linejoin="miter"/>
<polygon points="154.4,339.1 157,344.1 151.8,344.1" fill="#fff" stroke="#2a2a2a" stroke-width="0.75" stroke-linejoin="miter"/>
<polygon points="28.9,347.3 31.6,350 28.9,352.7 26.2,350" fill="#000"/>
<polygon points="30.89,349.3 33.59,352 30.89,354.7 28.2,352" fill="#000"/>
<polygon points="34.87,351.9 37.57,354.6 34.87,357.3 32.17,354.6" fill="#000"/>
<polygon points="42.84,348.6 45.54,351.3 42.84,354 40.14,351.3" fill="#000"/>
<polygon points="58.77,344.3 61.48,347 58.77,349.7 56.07,347" fill="#000"/>
<polygon points="90.65,344.3 93.35,347 90.65,349.7 87.95,347" fill="#000"/>
<polygon points="154.4,343.9 157.1,346.6 154.4,349.3 151.7,346.6" fill="#000"/>
<polygon points="28.9,352.9 31.5,355.5 28.9,358.1 26.3,355.5" fill="#fff" stroke="#2a2a2a" stroke-width="0.75"/>
<polygon points="30.89,342.9 33.49,345.5 30.89,348.1 28.29,345.5" fill="#fff" stroke="#2a2a2a" stroke-width="0.75"/>
<polygon points="34.87,345.3 37.47,347.9 34.87,350.5 32.27,347.9" fill="#fff" stroke="#2a2a2a" stroke-width="0.75"/>
<polygon points="42.84,342.9 45.44,345.5 42.84,348.1 40.24,345.5" fill="#fff" stroke="#2a2a2a" stroke-width="0.75"/>
<polygon points="58.77,342.9 61.38,345.5 58.77,348.1 56.17,345.5" fill="#fff" stroke="#2a2a2a" stroke-width="0.75"/>
<polygon points="90.65,342.7 93.25,345.3 90.65,347.9 88.05,345.3" fill="#fff" stroke="#2a2a2a" stroke-width="0.75"/>
<polygon points="154.4,339.6 157,342.2 154.4,344.8 151.8,342.2" fill="#fff" stroke="#2a2a2a" stroke-width="0.75"/>
<line x1="161.8" y1="284.8" x2="174.5" y2="284.8" stroke="#555" stroke-width="0.8"/>
<rect x="165.22" y="282.32" width="4.95" height="4.95" fill="#000"/>
<text x="176.2" y="287.32" font-size="7.05" text-anchor="start" font-weight="normal" fill="#111" stroke="#111" stroke-width="0.11">WT Baf/3-C4</text>
<line x1="161.8" y1="295" x2="174.5" y2="295" stroke="#555" stroke-width="0.8"/>
<rect x="165.34" y="292.64" width="4.73" height="4.73" fill="#fff" stroke="#2a2a2a" stroke-width="0.75"/>
<text x="176.2" y="297.52" font-size="7.05" text-anchor="start" font-weight="normal" fill="#111" stroke="#111" stroke-width="0.11">WT Baf/3-C4<tspan font-size="95%" dx="0.1" dy="-0.45" fill="#444" stroke="#444" stroke-width="0.1">@</tspan><tspan dx="0.1" dy="0.45">Ly49D</tspan></text>
<line x1="161.8" y1="304.9" x2="174.5" y2="304.9" stroke="#555" stroke-width="0.8"/>
<circle cx="167.7" cy="304.9" r="2.81" fill="#000"/>
<text x="176.2" y="307.42" font-size="7.05" text-anchor="start" font-weight="normal" fill="#111" stroke="#111" stroke-width="0.11">WT Baf/3</text>
<line x1="161.8" y1="315.5" x2="174.5" y2="315.5" stroke="#555" stroke-width="0.8"/>
<circle cx="167.7" cy="315.5" r="2.48" fill="#fff" stroke="#2a2a2a" stroke-width="0.75"/>
<text x="176.2" y="318.02" font-size="7.05" text-anchor="start" font-weight="normal" fill="#111" stroke="#111" stroke-width="0.11">WT Baf/3<tspan font-size="95%" dx="0.1" dy="-0.45" fill="#444" stroke="#444" stroke-width="0.1">@</tspan><tspan dx="0.1" dy="0.45">Ly49D</tspan></text>
<line x1="161.8" y1="326.2" x2="174.5" y2="326.2" stroke="#555" stroke-width="0.8"/>
<polygon points="167.7,322.82 170.62,328.68 164.77,328.68" fill="#000"/>
<text x="176.2" y="328.72" font-size="7.05" text-anchor="start" font-weight="normal" fill="#111" stroke="#111" stroke-width="0.11">PKC<tspan fill="#555" stroke="#555" stroke-width="0.12" font-size="88%">&#952;</tspan><tspan fill="#333" stroke="#333" stroke-width="0.12">-/-</tspan>&#160; Baf/3-C4</text>
<line x1="159.8" y1="336.8" x2="172.5" y2="336.8" stroke="#555" stroke-width="0.8"/>
<polygon points="165.7,333.54 168.62,339.16 162.77,339.16" fill="#fff" stroke="#2a2a2a" stroke-width="0.75" stroke-linejoin="miter"/>
<text x="174.2" y="339.32" font-size="7.05" text-anchor="start" font-weight="normal" fill="#111" stroke="#111" stroke-width="0.11">PKC<tspan fill="#555" stroke="#555" stroke-width="0.12" font-size="88%">&#952;</tspan><tspan fill="#333" stroke="#333" stroke-width="0.12">-/-</tspan>&#160; Baf/3-C4<tspan font-size="95%" dx="0.1" dy="-0.45" fill="#444" stroke="#444" stroke-width="0.1">@</tspan><tspan dx="0.1" dy="0.45">Ly49D</tspan></text>
<line x1="162.3" y1="347.2" x2="175" y2="347.2" stroke="#555" stroke-width="0.8"/>
<polygon points="168.2,344.16 171.24,347.2 168.2,350.24 165.16,347.2" fill="#000"/>
<text x="176.7" y="349.72" font-size="7.05" text-anchor="start" font-weight="normal" fill="#111" stroke="#111" stroke-width="0.11">PKC<tspan fill="#555" stroke="#555" stroke-width="0.12" font-size="88%">&#952;</tspan><tspan fill="#333" stroke="#333" stroke-width="0.12">-/-</tspan>&#160; Baf/3</text>
<line x1="161.8" y1="357.7" x2="174.5" y2="357.7" stroke="#555" stroke-width="0.8"/>
<polygon points="167.7,354.77 170.62,357.7 167.7,360.62 164.77,357.7" fill="#fff" stroke="#2a2a2a" stroke-width="0.75"/>
<text x="176.2" y="360.22" font-size="7.05" text-anchor="start" font-weight="normal" fill="#111" stroke="#111" stroke-width="0.11">PKC<tspan fill="#555" stroke="#555" stroke-width="0.12" font-size="88%">&#952;</tspan><tspan fill="#333" stroke="#333" stroke-width="0.12">-/-</tspan>&#160; Baf/3<tspan font-size="95%" dx="0.1" dy="-0.45" fill="#444" stroke="#444" stroke-width="0.1">@</tspan><tspan dx="0.1" dy="0.45">Ly49D</tspan></text>
<line x1="295.7" y1="279.4" x2="295.7" y2="365" stroke="#6a6a6a" stroke-width="0.9"/>
<line x1="295.7" y1="354.2" x2="423.5" y2="354.2" stroke="#6a6a6a" stroke-width="0.9"/>
<line x1="292.9" y1="279.93" x2="295.7" y2="279.93" stroke="#6a6a6a" stroke-width="0.9"/>
<text x="292.2" y="282.32" font-size="6.7" text-anchor="end" font-weight="normal" fill="#111" stroke="#111" stroke-width="0.12">35</text>
<line x1="292.9" y1="301.18" x2="295.7" y2="301.18" stroke="#6a6a6a" stroke-width="0.9"/>
<text x="292.2" y="303.57" font-size="6.7" text-anchor="end" font-weight="normal" fill="#111" stroke="#111" stroke-width="0.12">25</text>
<line x1="292.9" y1="322.43" x2="295.7" y2="322.43" stroke="#6a6a6a" stroke-width="0.9"/>
<text x="292.2" y="324.82" font-size="6.7" text-anchor="end" font-weight="normal" fill="#111" stroke="#111" stroke-width="0.12">15</text>
<line x1="292.9" y1="343.68" x2="295.7" y2="343.68" stroke="#6a6a6a" stroke-width="0.9"/>
<text x="292.2" y="346.07" font-size="6.7" text-anchor="end" font-weight="normal" fill="#111" stroke="#111" stroke-width="0.12">5</text>
<line x1="292.9" y1="364.93" x2="295.7" y2="364.93" stroke="#6a6a6a" stroke-width="0.9"/>
<text x="292.2" y="367.32" font-size="6.7" text-anchor="end" font-weight="normal" fill="#111" stroke="#111" stroke-width="0.12">-5</text>
<line x1="338" y1="354.2" x2="338" y2="356.2" stroke="#6a6a6a" stroke-width="0.9"/>
<text x="338" y="362.8" font-size="6.7" text-anchor="middle" font-weight="normal" fill="#111" stroke="#111" stroke-width="0.12">10</text>
<line x1="380.5" y1="354.2" x2="380.5" y2="356.2" stroke="#6a6a6a" stroke-width="0.9"/>
<text x="380.5" y="362.8" font-size="6.7" text-anchor="middle" font-weight="normal" fill="#111" stroke="#111" stroke-width="0.12">20</text>
<line x1="423" y1="354.2" x2="423" y2="356.2" stroke="#6a6a6a" stroke-width="0.9"/>
<text x="423" y="362.8" font-size="6.7" text-anchor="middle" font-weight="normal" fill="#111" stroke="#111" stroke-width="0.12">30</text>
<text x="359.5" y="372" font-size="7.3" text-anchor="middle" font-weight="normal" fill="#111" stroke="#111" stroke-width="0.12">E:T ratio</text>
<text transform="translate(281.5,322.9) rotate(-90)" font-size="7.5" text-anchor="middle" fill="#111" stroke="#111" stroke-width="0.12">cytotoxicity (%)</text>
<polyline points="297.5,353.3 299.5,350.6 303.47,346.6 311.44,331.1 327.38,328.9 359.25,312.3 423,292.9" fill="none" stroke="#4a4a4a" stroke-width="0.9"/>
<polyline points="297.5,356 299.5,353 303.47,351 311.44,351.2 327.38,350.6 359.25,348 423,342.6" fill="none" stroke="#4a4a4a" stroke-width="0.9"/>
<polyline points="297.5,350 299.5,337.3 303.47,338.6 311.44,331.4 327.38,317.1 359.25,301.8 423,285.3" fill="none" stroke="#4a4a4a" stroke-width="0.9"/>
<polyline points="297.5,357 299.5,355 303.47,352.4 311.44,344.8 327.38,348.4 359.25,348 423,346.2" fill="none" stroke="#4a4a4a" stroke-width="0.9"/>
<rect x="295.3" y="351.1" width="4.4" height="4.4" fill="#000"/>
<rect x="297.3" y="348.4" width="4.4" height="4.4" fill="#000"/>
<rect x="301.27" y="344.4" width="4.4" height="4.4" fill="#000"/>
<rect x="309.24" y="328.9" width="4.4" height="4.4" fill="#000"/>
<rect x="325.18" y="326.7" width="4.4" height="4.4" fill="#000"/>
<rect x="357.05" y="310.1" width="4.4" height="4.4" fill="#000"/>
<rect x="420.8" y="290.7" width="4.4" height="4.4" fill="#000"/>
<rect x="295.4" y="353.9" width="4.2" height="4.2" fill="#fff" stroke="#2a2a2a" stroke-width="0.75"/>
<rect x="297.39" y="350.9" width="4.2" height="4.2" fill="#fff" stroke="#2a2a2a" stroke-width="0.75"/>
<rect x="301.37" y="348.9" width="4.2" height="4.2" fill="#fff" stroke="#2a2a2a" stroke-width="0.75"/>
<rect x="309.34" y="349.1" width="4.2" height="4.2" fill="#fff" stroke="#2a2a2a" stroke-width="0.75"/>
<rect x="325.27" y="348.5" width="4.2" height="4.2" fill="#fff" stroke="#2a2a2a" stroke-width="0.75"/>
<rect x="357.15" y="345.9" width="4.2" height="4.2" fill="#fff" stroke="#2a2a2a" stroke-width="0.75"/>
<rect x="420.9" y="340.5" width="4.2" height="4.2" fill="#fff" stroke="#2a2a2a" stroke-width="0.75"/>
<polygon points="297.5,347 300.1,352.2 294.9,352.2" fill="#000"/>
<polygon points="299.5,334.3 302.1,339.5 296.89,339.5" fill="#000"/>
<polygon points="303.47,335.6 306.07,340.8 300.87,340.8" fill="#000"/>
<polygon points="311.44,328.4 314.04,333.6 308.84,333.6" fill="#000"/>
<polygon points="327.38,314.1 329.98,319.3 324.77,319.3" fill="#000"/>
<polygon points="359.25,298.8 361.85,304 356.65,304" fill="#000"/>
<polygon points="423,282.3 425.6,287.5 420.4,287.5" fill="#000"/>
<polygon points="297.5,354.1 300.1,359.1 294.9,359.1" fill="#fff" stroke="#2a2a2a" stroke-width="0.75" stroke-linejoin="miter"/>
<polygon points="299.5,352.1 302.1,357.1 296.89,357.1" fill="#fff" stroke="#2a2a2a" stroke-width="0.75" stroke-linejoin="miter"/>
<polygon points="303.47,349.5 306.07,354.5 300.87,354.5" fill="#fff" stroke="#2a2a2a" stroke-width="0.75" stroke-linejoin="miter"/>
<polygon points="311.44,341.9 314.04,346.9 308.84,346.9" fill="#fff" stroke="#2a2a2a" stroke-width="0.75" stroke-linejoin="miter"/>
<polygon points="327.38,345.5 329.98,350.5 324.77,350.5" fill="#fff" stroke="#2a2a2a" stroke-width="0.75" stroke-linejoin="miter"/>
<polygon points="359.25,345.1 361.85,350.1 356.65,350.1" fill="#fff" stroke="#2a2a2a" stroke-width="0.75" stroke-linejoin="miter"/>
<polygon points="423,343.3 425.6,348.3 420.4,348.3" fill="#fff" stroke="#2a2a2a" stroke-width="0.75" stroke-linejoin="miter"/>
<line x1="433.2" y1="279.5" x2="445.1" y2="279.5" stroke="#555" stroke-width="0.8"/>
<rect x="436.22" y="277.02" width="4.95" height="4.95" fill="#000"/>
<text x="446.9" y="282.04" font-size="7.1" text-anchor="start" font-weight="normal" fill="#111" stroke="#111" stroke-width="0.11">WT Baf/3-m157</text>
<line x1="433.2" y1="288.3" x2="445.1" y2="288.3" stroke="#555" stroke-width="0.8"/>
<rect x="436.34" y="285.94" width="4.73" height="4.73" fill="#fff" stroke="#2a2a2a" stroke-width="0.75"/>
<text x="446.9" y="290.84" font-size="7.1" text-anchor="start" font-weight="normal" fill="#111" stroke="#111" stroke-width="0.11">WT Baf/3</text>
<line x1="433.2" y1="299.25" x2="445.1" y2="299.25" stroke="#555" stroke-width="0.8"/>
<polygon points="438.7,295.88 441.62,301.73 435.77,301.73" fill="#000"/>
<text x="446.9" y="301.79" font-size="7.1" text-anchor="start" font-weight="normal" fill="#111" stroke="#111" stroke-width="0.11">PKC<tspan fill="#555" stroke="#555" stroke-width="0.12" font-size="88%">&#952;</tspan><tspan fill="#333" stroke="#333" stroke-width="0.12">-/-</tspan> Baf/3-m157</text>
<line x1="433.2" y1="308.9" x2="445.1" y2="308.9" stroke="#555" stroke-width="0.8"/>
<polygon points="438.7,305.64 441.62,311.26 435.77,311.26" fill="#fff" stroke="#2a2a2a" stroke-width="0.75" stroke-linejoin="miter"/>
<text x="446.9" y="311.44" font-size="7.1" text-anchor="start" font-weight="normal" fill="#111" stroke="#111" stroke-width="0.11">PKC<tspan fill="#555" stroke="#555" stroke-width="0.12" font-size="88%">&#952;</tspan><tspan fill="#333" stroke="#333" stroke-width="0.12">-/-</tspan>&#160; Baf/3</text>
<line x1="166" y1="403.8" x2="166" y2="488.3" stroke="#6a6a6a" stroke-width="0.9"/>
<line x1="166" y1="488.3" x2="294.2" y2="488.3" stroke="#6a6a6a" stroke-width="0.9"/>
<line x1="163.2" y1="404" x2="166" y2="404" stroke="#6a6a6a" stroke-width="0.9"/>
<text x="162.5" y="406.4" font-size="6.7" text-anchor="end" font-weight="normal" fill="#111" stroke="#111" stroke-width="0.12">30</text>
<line x1="163.2" y1="432.1" x2="166" y2="432.1" stroke="#6a6a6a" stroke-width="0.9"/>
<text x="162.5" y="434.5" font-size="6.7" text-anchor="end" font-weight="normal" fill="#111" stroke="#111" stroke-width="0.12">20</text>
<line x1="163.2" y1="460.2" x2="166" y2="460.2" stroke="#6a6a6a" stroke-width="0.9"/>
<text x="162.5" y="462.6" font-size="6.7" text-anchor="end" font-weight="normal" fill="#111" stroke="#111" stroke-width="0.12">10</text>
<line x1="163.2" y1="488.3" x2="166" y2="488.3" stroke="#6a6a6a" stroke-width="0.9"/>
<text x="162.5" y="490.7" font-size="6.7" text-anchor="end" font-weight="normal" fill="#111" stroke="#111" stroke-width="0.12">0</text>
<line x1="166.2" y1="488.3" x2="166.2" y2="490.3" stroke="#6a6a6a" stroke-width="0.9"/>
<text x="166.2" y="497.6" font-size="6.7" text-anchor="middle" font-weight="normal" fill="#111" stroke="#111" stroke-width="0.12">0</text>
<line x1="198.2" y1="488.3" x2="198.2" y2="490.3" stroke="#6a6a6a" stroke-width="0.9"/>
<text x="198.2" y="497.6" font-size="6.7" text-anchor="middle" font-weight="normal" fill="#111" stroke="#111" stroke-width="0.12">5</text>
<line x1="230.2" y1="488.3" x2="230.2" y2="490.3" stroke="#6a6a6a" stroke-width="0.9"/>
<text x="230.2" y="497.6" font-size="6.7" text-anchor="middle" font-weight="normal" fill="#111" stroke="#111" stroke-width="0.12">10</text>
<line x1="262.2" y1="488.3" x2="262.2" y2="490.3" stroke="#6a6a6a" stroke-width="0.9"/>
<text x="262.2" y="497.6" font-size="6.7" text-anchor="middle" font-weight="normal" fill="#111" stroke="#111" stroke-width="0.12">15</text>
<line x1="294.2" y1="488.3" x2="294.2" y2="490.3" stroke="#6a6a6a" stroke-width="0.9"/>
<text x="294.2" y="497.6" font-size="6.7" text-anchor="middle" font-weight="normal" fill="#111" stroke="#111" stroke-width="0.12">20</text>
<text x="229.2" y="506" font-size="7.3" text-anchor="middle" font-weight="normal" fill="#111" stroke="#111" stroke-width="0.12">E/T ratio</text>
<text transform="translate(152.2,447) rotate(-90)" font-size="7.5" text-anchor="middle" fill="#111" stroke="#111" stroke-width="0.12">cytotoxicity (%)</text>
<polyline points="168.2,468.7 170.2,450.3 174.2,464.5 182.2,471.4 198.2,451.7 230.2,426.9 294.2,420.7" fill="none" stroke="#4a4a4a" stroke-width="0.9"/>
<polyline points="168.2,485.6 170.2,484.5 174.2,484.5 182.2,488 198.2,476.2 230.2,466.8 294.2,457.4" fill="none" stroke="#4a4a4a" stroke-width="0.9"/>
<polyline points="168.2,470 170.2,466.6 174.2,476.9 182.2,467.7 198.2,451.7 230.2,442.5 294.2,439.8" fill="none" stroke="#4a4a4a" stroke-width="0.9"/>
<polyline points="168.2,481.8 170.2,455.2 174.2,481.8 182.2,484.5 198.2,474 230.2,464.1 294.2,460.6" fill="none" stroke="#4a4a4a" stroke-width="0.9"/>
<rect x="166" y="466.5" width="4.4" height="4.4" fill="#000"/>
<rect x="168" y="448.1" width="4.4" height="4.4" fill="#000"/>
<rect x="172" y="462.3" width="4.4" height="4.4" fill="#000"/>
<rect x="180" y="469.2" width="4.4" height="4.4" fill="#000"/>
<rect x="196" y="449.5" width="4.4" height="4.4" fill="#000"/>
<rect x="228" y="424.7" width="4.4" height="4.4" fill="#000"/>
<rect x="292" y="418.5" width="4.4" height="4.4" fill="#000"/>
<rect x="166.1" y="483.5" width="4.2" height="4.2" fill="#fff" stroke="#2a2a2a" stroke-width="0.75"/>
<rect x="168.1" y="482.4" width="4.2" height="4.2" fill="#fff" stroke="#2a2a2a" stroke-width="0.75"/>
<rect x="172.1" y="482.4" width="4.2" height="4.2" fill="#fff" stroke="#2a2a2a" stroke-width="0.75"/>
<rect x="180.1" y="485.9" width="4.2" height="4.2" fill="#fff" stroke="#2a2a2a" stroke-width="0.75"/>
<rect x="196.1" y="474.1" width="4.2" height="4.2" fill="#fff" stroke="#2a2a2a" stroke-width="0.75"/>
<rect x="228.1" y="464.7" width="4.2" height="4.2" fill="#fff" stroke="#2a2a2a" stroke-width="0.75"/>
<rect x="292.1" y="455.3" width="4.2" height="4.2" fill="#fff" stroke="#2a2a2a" stroke-width="0.75"/>
<polygon points="168.2,467 170.8,472.2 165.6,472.2" fill="#000"/>
<polygon points="170.2,463.6 172.8,468.8 167.6,468.8" fill="#000"/>
<polygon points="174.2,473.9 176.8,479.1 171.6,479.1" fill="#000"/>
<polygon points="182.2,464.7 184.8,469.9 179.6,469.9" fill="#000"/>
<polygon points="198.2,448.7 200.8,453.9 195.6,453.9" fill="#000"/>
<polygon points="230.2,439.5 232.8,444.7 227.6,444.7" fill="#000"/>
<polygon points="294.2,436.8 296.8,442 291.6,442" fill="#000"/>
<polygon points="168.2,478.9 170.8,483.9 165.6,483.9" fill="#fff" stroke="#2a2a2a" stroke-width="0.75" stroke-linejoin="miter"/>
<polygon points="170.2,452.3 172.8,457.3 167.6,457.3" fill="#fff" stroke="#2a2a2a" stroke-width="0.75" stroke-linejoin="miter"/>
<polygon points="174.2,478.9 176.8,483.9 171.6,483.9" fill="#fff" stroke="#2a2a2a" stroke-width="0.75" stroke-linejoin="miter"/>
<polygon points="182.2,481.6 184.8,486.6 179.6,486.6" fill="#fff" stroke="#2a2a2a" stroke-width="0.75" stroke-linejoin="miter"/>
<polygon points="198.2,471.1 200.8,476.1 195.6,476.1" fill="#fff" stroke="#2a2a2a" stroke-width="0.75" stroke-linejoin="miter"/>
<polygon points="230.2,461.2 232.8,466.2 227.6,466.2" fill="#fff" stroke="#2a2a2a" stroke-width="0.75" stroke-linejoin="miter"/>
<polygon points="294.2,457.7 296.8,462.7 291.6,462.7" fill="#fff" stroke="#2a2a2a" stroke-width="0.75" stroke-linejoin="miter"/>
<line x1="302.9" y1="408.5" x2="316.3" y2="408.5" stroke="#555" stroke-width="0.8"/>
<rect x="306.72" y="406.02" width="4.95" height="4.95" fill="#000"/>
<text x="318.3" y="411.01" font-size="7" text-anchor="start" font-weight="normal" fill="#111" stroke="#111" stroke-width="0.11">WT EL4<tspan font-size="95%" dx="0.1" dy="-0.45" fill="#444" stroke="#444" stroke-width="0.1">@</tspan><tspan dx="0.1" dy="0.45">thy1.2</tspan></text>
<line x1="302.9" y1="419" x2="316.3" y2="419" stroke="#555" stroke-width="0.8"/>
<rect x="306.84" y="416.64" width="4.73" height="4.73" fill="#fff" stroke="#2a2a2a" stroke-width="0.75"/>
<text x="318.3" y="421.51" font-size="7" text-anchor="start" font-weight="normal" fill="#111" stroke="#111" stroke-width="0.11">WT EL4</text>
<line x1="302.9" y1="430.2" x2="316.3" y2="430.2" stroke="#555" stroke-width="0.8"/>
<polygon points="309.2,426.82 312.12,432.68 306.27,432.68" fill="#000"/>
<text x="318.3" y="432.71" font-size="7" text-anchor="start" font-weight="normal" fill="#111" stroke="#111" stroke-width="0.11">PKC<tspan fill="#555" stroke="#555" stroke-width="0.12" font-size="88%">&#952;</tspan><tspan fill="#333" stroke="#333" stroke-width="0.12">-/-</tspan>EL4<tspan font-size="95%" dx="0.1" dy="-0.45" fill="#444" stroke="#444" stroke-width="0.1">@</tspan><tspan dx="0.1" dy="0.45">thy1.2</tspan></text>
<line x1="302.9" y1="440.8" x2="316.3" y2="440.8" stroke="#555" stroke-width="0.8"/>
<polygon points="309.2,437.54 312.12,443.16 306.27,443.16" fill="#fff" stroke="#2a2a2a" stroke-width="0.75" stroke-linejoin="miter"/>
<text x="318.3" y="443.31" font-size="7" text-anchor="start" font-weight="normal" fill="#111" stroke="#111" stroke-width="0.11">PKC<tspan fill="#555" stroke="#555" stroke-width="0.12" font-size="88%">&#952;</tspan><tspan fill="#333" stroke="#333" stroke-width="0.12">-/-</tspan>&#160; EL4</text>
<text x="138.7" y="8.6" font-size="11" text-anchor="start" font-weight="bold" fill="#000" stroke="#000" stroke-width="0.3">A</text>
<text x="0.9" y="133.6" font-size="11" text-anchor="start" font-weight="bold" fill="#000" stroke="#000" stroke-width="0.3">B</text>
<text x="0.4" y="271.4" font-size="11" text-anchor="start" font-weight="bold" fill="#000" stroke="#000" stroke-width="0.3">C</text>
<text x="138.6" y="392.5" font-size="11" text-anchor="start" font-weight="bold" fill="#000" stroke="#000" stroke-width="0.3">D</text>
</g>
</svg>
</body></html>
